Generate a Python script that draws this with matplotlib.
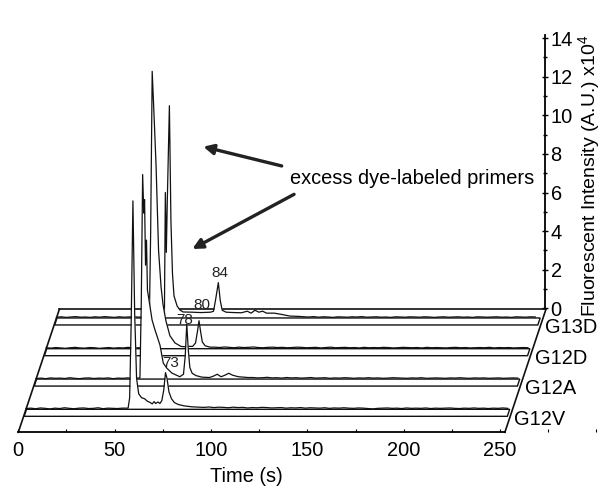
import numpy as np
import matplotlib
matplotlib.use("Agg")
import matplotlib.pyplot as plt
from matplotlib.patches import FancyArrowPatch, Polygon
from matplotlib.ticker import MultipleLocator

plt.rcParams['font.family'] = ['Liberation Sans', 'DejaVu Sans']
plt.rcParams['mathtext.fontset'] = 'custom'
plt.rcParams['mathtext.rm'] = 'Liberation Sans'
plt.rcParams['mathtext.default'] = 'regular'

# ---------------- data ----------------
samples = ["G12V", "G12A", "G12D", "G13D"]
time_ticks = [0, 50, 100, 150, 200, 250]
intensity_ticks = [0, 2, 4, 6, 8, 10, 12, 14]
peak_labels = ["73", "78", "80", "84"]
peak_label_t = [75.1, 77.3, 80.7, 84.9]
peak_label_h = [2.42, 3.08, 2.27, 2.32]

# feature points: time (s), intensity (x1e4)
g12v_t = [53.0, 53.8, 54.6, 55.5, 56.4, 57.4, 58.5, 60.0, 61.5, 63.0, 64.5, 65.5, 66.5, 67.3,
          68.5, 69.5, 70.5, 71.5, 72.4, 73.2, 74.2, 75.5, 77.0, 79.0, 82.0, 86.0, 90.0]
g12v_h = [0.06, 0.6, 4.5, 10.8, 5.0, 1.6, 0.8, 0.6, 0.55, 0.42, 0.35, 0.28, 0.40, 0.30,
          0.38, 0.30, 0.45, 1.0, 1.9, 1.6, 0.9, 0.55, 0.35, 0.25, 0.18, 0.13, 0.11]

g12a_t = [53.9, 54.6, 55.3, 55.9, 56.3, 56.8, 57.3, 57.8, 58.6, 60.2, 61.7, 64.3, 66.0, 67.8,
          70.5, 74.6, 76.5, 77.4, 78.2, 79.0, 79.8, 81.0, 83.0, 86.0, 90.0, 92.0,
          94.0, 96.0, 98.0, 100.0, 102.0, 105.0, 110.0]
g12a_h = [0.06, 4.0, 10.6, 8.6, 9.3, 5.9, 7.2, 4.6, 4.1, 3.06, 2.55, 1.76, 0.83, 0.57,
          0.31, 0.12, 0.25, 1.2, 2.85, 1.5, 0.6, 0.3, 0.18, 0.1, 0.08, 0.15,
          0.25, 0.12, 0.2, 0.3, 0.2, 0.12, 0.08]

g12d_t = [53.3, 54.2, 55.0, 56.0, 57.0, 58.3, 59.6, 60.6, 62.1, 64.2, 66.8, 69.9,
          72.0, 74.0, 76.0, 77.5, 78.5, 79.3, 80.1, 81.0, 82.5, 85.0]
g12d_h = [0.06, 6.0, 14.37, 12.0, 9.5, 5.1, 3.2, 2.3, 1.45, 0.67, 0.3, 0.12,
          0.1, 0.12, 0.12, 0.3, 0.9, 1.45, 0.9, 0.35, 0.15, 0.08]

g13d_t = [56.0, 56.5, 57.0, 57.5, 58.6, 59.4, 60.2, 61.0, 62.6, 64.0, 65.7, 70.0, 75.0, 80.0,
          81.5, 82.5, 84.0, 85.0, 86.0, 88.0, 92.0, 96.0, 99.0, 101.0, 103.0, 105.0, 107.0,
          109.0, 113.0, 117.0, 121.0, 126.0]
g13d_h = [0.06, 6.5, 3.4, 6.0, 11.0, 5.0, 2.3, 1.14, 0.62, 0.42, 0.31, 0.30, 0.28, 0.30,
          0.35, 0.9, 1.83, 0.9, 0.4, 0.3, 0.28, 0.27, 0.35, 0.25, 0.4, 0.3, 0.35,
          0.25, 0.25, 0.18, 0.1, 0.08]

# baseline noise, hundredths of 1e4, on a 2.5 s grid
NOISE_STEP = 2.5
g12v_pre_start, g12v_post_start = 0.0, 92.5
g12v_pre = [4, 6, 3, 7, 5, 2, 6, 4, 8, 5, 3, 6, 7, 4, 5, 8, 3, 6, 5, 4, 6]
g12v_post = [10, 12, 9, 11, 10, 8, 11, 9, 10, 7, 9, 8, 10, 9, 7, 8, 9, 6, 8, 7, 9, 6, 8, 7,
             6, 8, 5, 7, 6, 8, 6, 5, 7, 6, 4, 2, 5, 6, 7, 5, 6, 4, 7, 5, 6, 5, 7, 4, 6, 5,
             6, 7, 5, 4, 6, 5, 7, 5, 6, 4, 6, 5, 7, 5]
g12a_pre_start, g12a_post_start = 0.0, 112.5
g12a_pre = [3, 5, 2, 6, 4, 5, 3, 7, 4, 2, 5, 6, 3, 5, 4, 6, 2, 5, 4, 6, 3]
g12a_post = [8, 6, 7, 9, 6, 7, 5, 8, 6, 7, 5, 6, 8, 5, 6, 7, 4, 6, 5, 7, 6, 4, 6, 5, 7, 5,
             6, 4, 5, 7, 6, 5, 4, 6, 5, 7, 4, 5, 6, 5, 4, 6, 5, 7, 5, 4, 6, 5, 6, 4, 5, 6,
             4, 5, 6, 5]
g12d_pre_start, g12d_post_start = 0.0, 87.5
g12d_pre = [5, 3, 6, 4, 2, 5, 7, 4, 3, 6, 5, 2, 4, 6, 3, 5, 4, 7, 3, 5, 4]
g12d_post = [8, 6, 9, 7, 5, 8, 6, 7, 9, 6, 5, 7, 8, 6, 7, 5, 6, 8, 7, 5, 6, 7, 4, 6, 8, 5,
             6, 7, 5, 6, 4, 7, 5, 6, 5, 7, 6, 4, 5, 7, 6, 5, 6, 4, 7, 5, 6, 5, 4, 6, 7, 5,
             6, 4, 5, 6, 5, 7, 4, 6, 5, 6, 4, 5, 6, 5]
g13d_pre_start, g13d_post_start = 0.0, 128.5
g13d_pre = [4, 6, 3, 5, 7, 4, 5, 3, 6, 4, 7, 5, 3, 6, 4, 5, 7, 4, 6, 3, 5, 4, 6]
g13d_post = [6, 5, 7, 4, 6, 5, 3, 6, 5, 4, 6, 5, 7, 4, 5, 6, 4, 5, 3, 6, 5, 4, 6, 5, 4, 6,
             5, 3, 5, 6, 4, 5, 6, 4, 5, 3, 6, 5, 4, 5, 6, 4, 5, 3, 6, 5, 4, 6, 5]

# ---------------- geometry (oblique projection) ----------------
W, H, DPI = 603, 488, 100
PX_T0, PX_PER_S = 18.3, 1.927       # front time axis calibration
PX_V0, PX_PER_U = 432.3, 19.3       # front baseline / intensity scale
DX, DY = 21.3, 6.37                 # shift (s, units) for full depth
T_FLOOR = 252.5
T_END = 251.0
SLAB = 0.057
sample_depth = [0.187, 0.433, 0.680, 0.930]
FS = 14.4


def proj(t, h, d):
    return np.asarray(t, float) + d * DX, np.asarray(h, float) + d * DY


def build(pre_start, pre, feat_t, feat_h, post_start, post):
    tp = pre_start + NOISE_STEP * np.arange(len(pre))
    tq = post_start + NOISE_STEP * np.arange(len(post))
    t = np.concatenate([tp, feat_t, tq])
    h = np.concatenate([np.array(pre) / 100.0, feat_h, np.array(post) / 100.0])
    return t, h


traces = [
    build(g12v_pre_start, g12v_pre, g12v_t, g12v_h, g12v_post_start, g12v_post),
    build(g12a_pre_start, g12a_pre, g12a_t, g12a_h, g12a_post_start, g12a_post),
    build(g12d_pre_start, g12d_pre, g12d_t, g12d_h, g12d_post_start, g12d_post),
    build(g13d_pre_start, g13d_pre, g13d_t, g13d_h, g13d_post_start, g13d_post),
]

fig = plt.figure(figsize=(W / DPI, H / DPI), dpi=DPI)
ax = fig.add_axes([0, 0, 1, 1])
ax.set_xlim(-PX_T0 / PX_PER_S, (W - PX_T0) / PX_PER_S)
ax.set_ylim((PX_V0 - H) / PX_PER_U, PX_V0 / PX_PER_U)
ax.set_facecolor('none')
for s in ['top', 'left', 'right']:
    ax.spines[s].set_visible(False)
ax.spines['bottom'].set_position(('data', 0))
ax.spines['bottom'].set_bounds(0, T_FLOOR)
ax.spines['bottom'].set_linewidth(1.3)
ax.set_yticks([])
ax.set_xticks(time_ticks)
ax.xaxis.set_minor_locator(MultipleLocator(25))
ax.tick_params(axis='x', which='both', direction='in', length=2, width=0.8,
               labelsize=FS, pad=6)

LC = '#111111'
# floor outline
ax.plot([0, DX], [0, DY], color=LC, lw=1.2, zorder=1)
ax.plot([T_FLOOR, T_FLOOR + DX], [0, DY], color=LC, lw=1.2, zorder=1)
ax.plot([DX, T_FLOOR + DX], [DY, DY], color=LC, lw=1.2, zorder=1)

# draw samples back to front
for k in range(len(samples) - 1, -1, -1):
    d = sample_depth[k]
    z = 2 + 4 * (len(samples) - k)
    xa, ya = proj([0.3, T_END], [0, 0], d)
    xb, yb = proj([T_END, 0.3], [0, 0], d - SLAB)
    verts = np.column_stack([np.r_[xa, xb], np.r_[ya, yb]])
    ax.add_patch(Polygon(verts, closed=True, facecolor='white', edgecolor='none', zorder=z))
    t, h = traces[k]
    x, y = proj(t, h, d)
    ax.fill_between(x, d * DY, y, color='white', lw=0, zorder=z + 1)
    ax.add_patch(Polygon(verts, closed=True, facecolor='none', edgecolor=LC, lw=1.0,
                         zorder=z + 2, joinstyle='miter'))
    ax.plot(x, y, color=LC, lw=0.9, zorder=z + 3)
    # sample label
    ax.text(T_END + d * DX + 2.5, (d - SLAB) * DY - 0.15, samples[k], fontsize=FS,
            ha='left', va='center', zorder=30)
    # peak label
    ax.text(peak_label_t[k] + d * DX, peak_label_h[k] + d * DY, peak_labels[k],
            fontsize=11, ha='center', va='center', color='#222222', zorder=30)

# annotation
ax.text(141.0, 13.17, "excess dye-labeled primers", fontsize=FS, ha='left',
        va='center', zorder=30)
for (x0, y0), (x1, y1) in [((136.7, 13.8), (96.0, 14.8)), ((143.1, 12.33), (90.3, 9.5))]:
    ax.add_patch(FancyArrowPatch((x0, y0), (x1, y1), arrowstyle='-|>', mutation_scale=15,
                                 lw=2.4, color='#222222', zorder=30, shrinkA=0, shrinkB=0))

ax.text((246 - PX_T0) / PX_PER_S, (PX_V0 - 476) / PX_PER_U, "Time (s)", fontsize=FS,
        ha='center', va='center')

# intensity axis at back right
left_px = 535.0
top_units = 14.15
ax2 = fig.add_axes([left_px / W, (H - 308.3) / H, 10.0 / W, top_units * PX_PER_U / H])
ax2.set_facecolor('none')
ax2.set_ylim(0, top_units)
ax2.set_xticks([])
for s in ['top', 'left', 'bottom']:
    ax2.spines[s].set_visible(False)
ax2.spines['right'].set_linewidth(1.3)
ax2.yaxis.tick_right()
ax2.set_yticks(intensity_ticks)
ax2.yaxis.set_minor_locator(MultipleLocator(1))
ax2.tick_params(axis='y', which='major', direction='inout', length=4, width=1.0,
                labelsize=FS, pad=2)
ax2.tick_params(axis='y', which='minor', direction='inout', length=3, width=1.0)

ax.text((589 - PX_T0) / PX_PER_S, (PX_V0 - 176) / PX_PER_U,
        "Fluorescent Intensity (A.U.) x10$^4$", fontsize=14, rotation=90,
        ha='center', va='center')

fig.savefig("out.png", dpi=DPI)
